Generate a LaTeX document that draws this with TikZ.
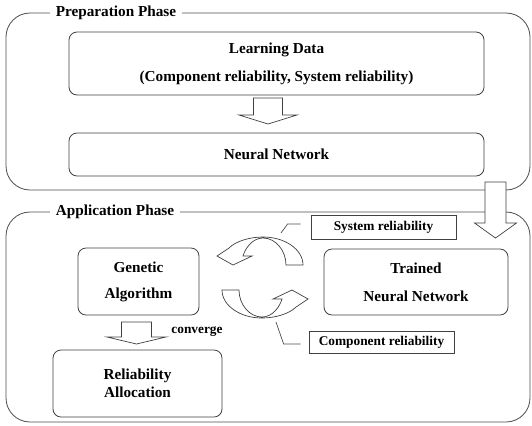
\documentclass[tikz,border=0pt]{standalone}
\usepackage{fontspec}
\setmainfont{Liberation Serif}
\newcommand\lblfont{\fontsize{15.3}{18}\selectfont\bfseries}
\newcommand\tagfont{\fontsize{13.4}{16}\selectfont\bfseries}
% hollow block arrow pointing down: x, stem top, head base, tip, stem half width, head half width
\newcommand\blockdown[6]{%
  \draw[hollow] (#1-#5,#2) -- (#1+#5,#2) -- (#1+#5,#3) -- (#1+#6,#3) -- (#1,#4)
    -- (#1-#6,#3) -- (#1-#5,#3) -- cycle;}
\tikzset{
  frame/.style={draw=black!70, line width=0.8bp, rounded corners=24bp},
  phase/.style={fill=white, inner xsep=6bp, inner ysep=1bp, font=\lblfont},
  box/.style={draw=black!75, line width=0.8bp, rounded corners=8bp, fill=white,
    align=center, inner sep=0pt, font=\lblfont},
  tag/.style={draw=black!75, line width=0.8bp, fill=white, inner sep=0pt, font=\tagfont},
  hollow/.style={draw=black!75, line width=0.7bp, fill=white, line join=miter},
  leader/.style={draw=black!70, line width=0.7bp},
}
\begin{document}
\begin{tikzpicture}[x=1bp, y=-1bp]
\useasboundingbox (0,0) rectangle (532,425);

% the two phase frames
\draw[frame] (6,13) rectangle (530,190);
\draw[frame] (6,212) rectangle (530,422);
\node[phase] (prep) at (116,13) {Preparation Phase};
\node[phase] (appl) at (115,212) {Application Phase};

% preparation phase
\node[box, minimum width=415bp, minimum height=63bp] (ld) at (276.5,63.5)
  {Learning Data\\[10bp](Component reliability, System reliability)};
\node[box, minimum width=415bp, minimum height=43bp] (nn) at (276.5,154.5)
  {Neural Network};
\blockdown{268}{98}{115}{124}{14.5}{29}

% hand-over from preparation to application
\blockdown{495.5}{182}{223}{238}{10.5}{21}

% application phase
\node[box, minimum width=121bp, minimum height=67bp] (ga) at (138.5,281.5)
  {Genetic\\[8bp]Algorithm};
\node[box, minimum width=169bp, minimum height=67bp] (ra) at (137.5,383.5)
  {Reliability\\Allocation};
\node[box, minimum width=184bp, minimum height=66bp] (tnn) at (416,282)
  {Trained\\[10bp]Neural Network};
\blockdown{136.5}{322}{337}{344}{15}{29.5}
\node[font=\tagfont, inner sep=0pt] (conv) at (197,332) {converge};

% exchange loop between the algorithm and the trained network
\draw[hollow] (303,265) .. controls (303,249.5) and (285,237) .. (263,237)
  .. controls (250,237) and (236,241) .. (229,248) -- (217,256) -- (233,265)
  -- (252,256) -- (243,256) .. controls (245,249) and (252,238) .. (263,238)
  .. controls (275.7,238) and (286,250.6) .. (286,265) -- cycle;
\begin{scope}[rotate around={180:(262.5,277.5)}]
\draw[hollow] (303,265) .. controls (303,249.5) and (285,237) .. (263,237)
  .. controls (250,237) and (236,241) .. (229,248) -- (217,256) -- (233,265)
  -- (252,256) -- (243,256) .. controls (245,249) and (252,238) .. (263,238)
  .. controls (275.7,238) and (286,250.6) .. (286,265) -- cycle;
\end{scope}

\node[tag, minimum width=145bp, minimum height=24bp] (sys) at (383.5,227)
  {System reliability};
\node[tag, minimum width=145bp, minimum height=22bp] (comp) at (381.5,342)
  {Component reliability};
\coordinate (syspt) at (281,233);
\coordinate (comppt) at (276,322);
\draw[leader] (sys.west) ++(-10,-3) -- ++(-13,0) -- (syspt);
\draw[leader] (comp.west) ++(-8,2) -- ++(-17,0) -- (comppt);
\end{tikzpicture}
\end{document}
